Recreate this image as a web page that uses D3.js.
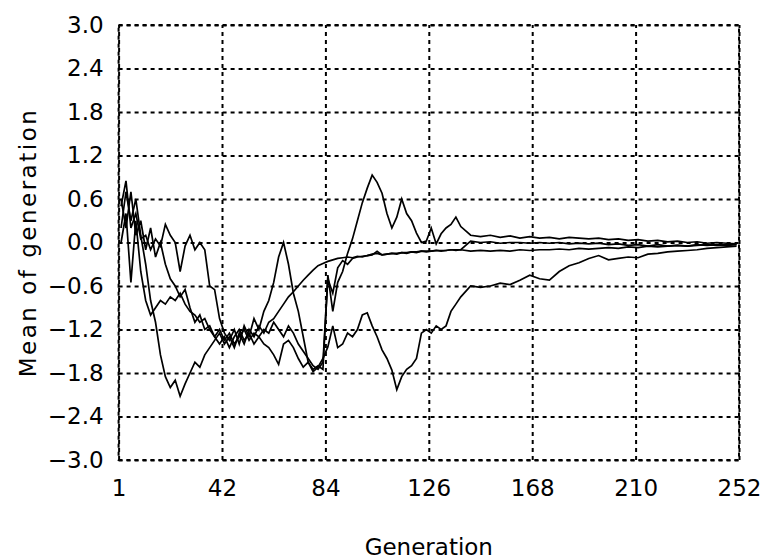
<!DOCTYPE html>
<html>
<head>
<meta charset="utf-8">
<script src="https://cdn.jsdelivr.net/npm/d3@7"></script>
<style>
  body { margin: 0; background: #fff; }
  text { font-family: "DejaVu Sans", sans-serif; fill: #000; }
</style>
</head>
<body>
<div class="chart"></div>
<script>
// generation sampling grid: every 2nd generation up to 139, then every 4th
const gens = d3.range(1, 140, 2).concat(d3.range(143, 252, 4));

const xTickValues = [0, 42, 84, 126, 168, 210, 252];
const xTickLabels = ["1", "42", "84", "126", "168", "210", "252"];
const yTickValues = [3.0, 2.4, 1.8, 1.2, 0.6, 0.0, -0.6, -1.2, -1.8, -2.4, -3.0];

// run 1: deep early drop, then smooth rise
const run1 = [
  0.2, 0.7, 0.3, 0.6, 0.1, -0.3, -0.8, -1.1, -1.55, -1.85,
  -2.0, -1.9, -2.12, -1.95, -1.8, -1.65, -1.72, -1.55, -1.45, -1.35,
  -1.25, -1.4, -1.3, -1.45, -1.25, -1.4, -1.2, -1.3, -1.15, -1.25,
  -1.1, -1.05, -0.95, -0.85, -0.75, -0.68, -0.6, -0.52, -0.45, -0.38,
  -0.32, -0.29, -0.26, -0.24, -0.22, -0.21, -0.2, -0.21, -0.19, -0.2,
  -0.18, -0.17, -0.12, -0.17, -0.16, -0.15, -0.16, -0.14, -0.15, -0.13,
  -0.14, -0.12, -0.13, -0.12, -0.11, -0.12, -0.11, -0.1, -0.11, -0.1,
  -0.12, -0.11, -0.12, -0.11, -0.12, -0.1, -0.11, -0.1, -0.1, -0.09,
  -0.1, -0.08, -0.09, -0.08, -0.07, -0.08, -0.06, -0.07, -0.05, -0.06,
  -0.05, -0.04, -0.05, -0.04, -0.03, -0.04, -0.03, -0.02
];

// run 2: near zero early, peaks at ~67 and ~103
const run2 = [
  0.5, 0.85, 0.2, 0.4, 0.05, 0.1, -0.1, 0.05, -0.05, 0.25,
  0.1, 0.0, -0.4, -0.05, 0.1, -0.1, 0.0, -0.1, -0.6, -0.65,
  -1.05, -1.25, -1.35, -1.2, -1.4, -1.15, -1.3, -1.05, -1.2, -0.95,
  -0.8, -0.55, -0.2, 0.0, -0.3, -0.7, -0.95, -1.3, -1.65, -1.75,
  -1.7, -1.75, -0.45, -0.95, -0.55, -0.4, -0.15, 0.05, 0.3, 0.55,
  0.75, 0.93, 0.83, 0.68, 0.4, 0.2, 0.35, 0.6, 0.4, 0.3,
  0.13, 0.0, 0.02, 0.2, -0.02, 0.12, 0.2, 0.25, 0.35, 0.22,
  0.1, 0.08, 0.1, 0.07, 0.09, 0.06, 0.08, 0.06, 0.07, 0.05,
  0.07, 0.06, 0.05, 0.06, 0.04, 0.05, 0.03, 0.04, 0.02, 0.03,
  0.01, 0.02, 0.0, 0.01, -0.01, 0.0, -0.01, -0.02
];

// run 3: middle early, lowest late (minimum near 113)
const run3 = [
  0.0, 0.4, -0.55, 0.3, -0.4, -0.8, -1.0, -0.9, -0.8, -0.85,
  -0.75, -0.8, -0.7, -0.85, -0.95, -1.0, -1.1, -1.05, -1.2, -1.3,
  -1.2, -1.35, -1.25, -1.4, -1.3, -1.2, -1.35, -1.25, -1.3, -1.4,
  -1.45, -1.55, -1.68, -1.4, -1.35, -1.45, -1.6, -1.72, -1.65, -1.78,
  -1.72, -1.6, -1.44, -1.15, -1.45, -1.4, -1.25, -1.3, -1.2, -1.0,
  -0.97, -1.15, -1.3, -1.48, -1.6, -1.76, -2.03, -1.85, -1.75, -1.7,
  -1.6, -1.25, -1.2, -1.25, -1.15, -1.2, -1.15, -0.95, -0.85, -0.75,
  -0.6, -0.62, -0.6, -0.56, -0.58, -0.52, -0.45, -0.5, -0.52, -0.4,
  -0.32, -0.28, -0.22, -0.18, -0.24, -0.22, -0.2, -0.21, -0.16, -0.15,
  -0.13, -0.12, -0.11, -0.1, -0.08, -0.07, -0.06, -0.05
];

// run 4: joins the flat line, steps up near 142
const run4 = [
  0.6, 0.2, 0.7, 0.1, 0.3, -0.1, 0.2, -0.2, 0.0, -0.3,
  -0.5, -0.6, -0.75, -0.65, -0.9, -1.1, -1.0, -1.2, -1.15, -1.3,
  -1.4, -1.3, -1.45, -1.3, -1.2, -1.35, -1.25, -1.4, -1.3, -1.2,
  -1.25, -1.1, -1.2, -1.3, -1.15, -1.25, -1.4, -1.5, -1.6, -1.7,
  -1.75, -1.65, -0.5, -0.7, -0.35, -0.25, -0.3, -0.22, -0.2, -0.19,
  -0.18, -0.16, -0.15, -0.17, -0.16, -0.15, -0.15, -0.14, -0.14, -0.13,
  -0.13, -0.12, -0.12, -0.12, -0.11, -0.11, -0.11, -0.1, -0.1, -0.1,
  0.02, 0.0, 0.01, -0.01, 0.0, 0.0, -0.01, 0.0, -0.01, 0.0,
  -0.02, -0.01, -0.02, -0.01, -0.03, -0.02, -0.04, -0.03, -0.05, -0.03,
  -0.05, -0.04, -0.05, -0.03, -0.04, -0.03, -0.04, -0.03
];

const runs = [run1, run2, run3, run4];

const margin = {top: 25, left: 118.6, right: 34, bottom: 99};
const W = 773, H = 559;
const width = W - margin.left - margin.right,
      height = H - margin.top - margin.bottom;

const svg = d3.select(".chart").append("svg")
  .attr("width", W)
  .attr("height", H);

const g = svg.append("g")
  .attr("transform", `translate(${margin.left},${margin.top})`);

const xScale = d3.scaleLinear().domain([0, 252]).range([0, width]);
const yScale = d3.scaleLinear().domain([-3, 3]).range([height, 0]);

// dotted grid via axes
const xAxis = d3.axisBottom(xScale)
  .tickValues(xTickValues)
  .tickFormat((d, i) => xTickLabels[i])
  .tickSize(-height)
  .tickPadding(20);

const yAxis = d3.axisLeft(yScale)
  .tickValues(yTickValues)
  .tickFormat(d3.format(".1f"))
  .tickSize(-width)
  .tickPadding(15);

const gx = g.append("g")
  .attr("class", "axis x-axis")
  .attr("transform", `translate(0,${height})`)
  .call(xAxis);

const gy = g.append("g")
  .attr("class", "axis y-axis")
  .call(yAxis);

[gx, gy].forEach(a => {
  a.select(".domain").remove();
  a.selectAll(".tick line")
    .attr("stroke", "#000")
    .attr("stroke-width", 2)
    .attr("stroke-dasharray", "4,4");
  a.selectAll(".tick text")
    .style("font-size", "23px")
    .style("font-family", "'DejaVu Sans', sans-serif")
    .attr("fill", "#000");
});

gy.selectAll(".tick text").text(d => d3.format(".1f")(d).replace("-", "\u2212"));

g.append("rect")
  .attr("width", width)
  .attr("height", height)
  .attr("fill", "none")
  .attr("stroke", "#000")
  .attr("stroke-width", 2)
  .attr("stroke-dasharray", "4,4");

const line = d3.line()
  .x((d, i) => xScale(gens[i]))
  .y(d => yScale(d));

g.selectAll(".run")
  .data(runs)
  .enter()
  .append("path")
  .attr("class", "run")
  .attr("d", line)
  .attr("fill", "none")
  .attr("stroke", "#000")
  .attr("stroke-width", 1.7);

svg.append("text")
  .attr("x", margin.left + width / 2)
  .attr("y", 555)
  .attr("text-anchor", "middle")
  .style("font-size", "23px")
  .text("Generation");

svg.append("text")
  .attr("transform", `translate(36,${margin.top + height / 2}) rotate(-90)`)
  .attr("text-anchor", "middle")
  .style("font-size", "23px")
  .style("letter-spacing", "2.5px")
  .text("Mean of generation");
</script>
</body>
</html>
